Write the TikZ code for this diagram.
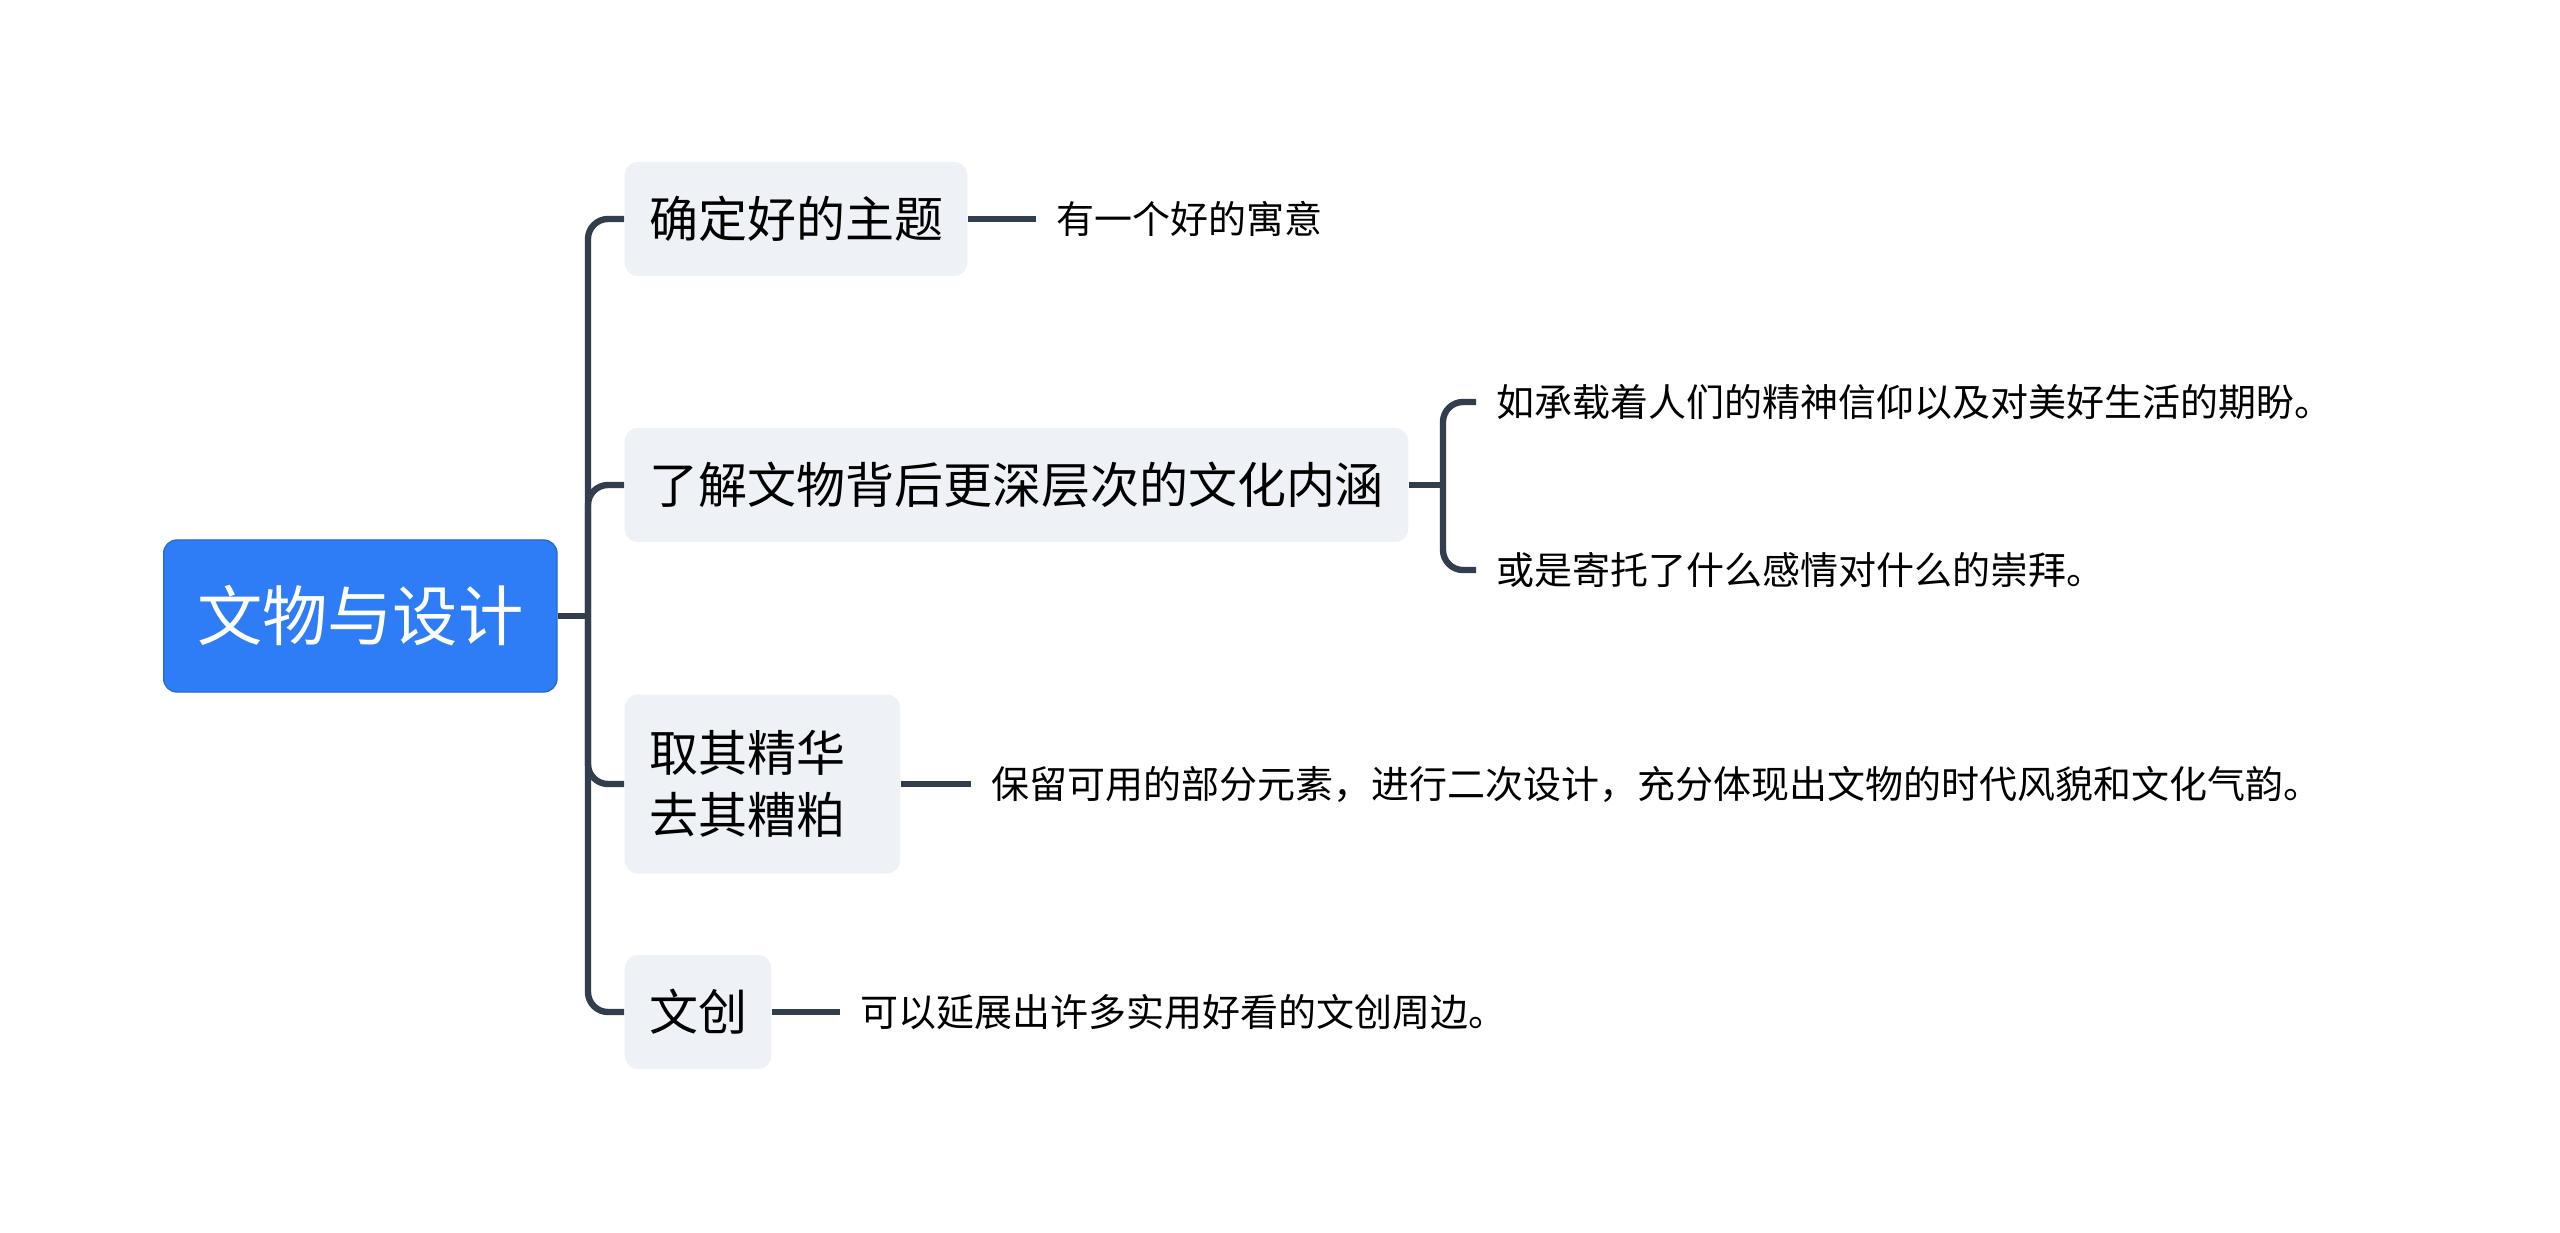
\documentclass[tikz,border=0pt]{standalone}
\usepackage{fontspec}
\newfontfamily\cjk{Noto Sans CJK SC}
\definecolor{rootblue}{HTML}{2E7CF6}
\definecolor{boxgray}{HTML}{EEF1F5}
\definecolor{linkslate}{HTML}{323D4E}
\tikzset{
  rootbox/.style={rectangle, rounded corners=4pt, fill=rootblue, draw=rootblue!85!black,
    line width=0.4pt, text=white, font=\cjk\fontsize{19.6pt}{24pt}\selectfont,
    minimum height=45.6pt, inner xsep=10pt, anchor=west},
  topicbox/.style={rectangle, rounded corners=4pt, fill=boxgray,
    font=\cjk\fontsize{14.7pt}{18.6pt}\selectfont, minimum height=34.2pt,
    inner xsep=7.3pt, anchor=west},
  notetext/.style={font=\cjk\fontsize{11.4pt}{14pt}\selectfont, inner xsep=6pt,
    inner ysep=0pt, anchor=west},
  link/.style={draw=linkslate, line width=1.9pt, rounded corners=6pt},
}

\begin{document}
\begin{tikzpicture}[x=0.3pt, y=-0.3pt]
  \fill[white] (0,0) rectangle (2560,1233);
  \useasboundingbox (0,0) rectangle (2560,1233);

  % root and topics
  \node[rootbox] at (163,616) (root) {文物与设计};
  \node[topicbox] at (624,219) (theme) {确定好的主题};
  \node[topicbox] at (624,485) (meaning) {了解文物背后更深层次的文化内涵};
  \node[topicbox, text width=68pt, align=left, minimum height=53.7pt] at (624,784) (essence) {取其精华\\去其糟粕};
  \node[topicbox] at (624,1012) (wenchuang) {文创};

  % notes
  \node[notetext] at (1036,219) (themeNote) {有一个好的寓意};
  \node[notetext] at (1476,402) (meaningA) {如承载着人们的精神信仰以及对美好生活的期盼。};
  \node[notetext] at (1476,570) (meaningB) {或是寄托了什么感情对什么的崇拜。};
  \node[notetext] at (971,784) (essenceNote) {保留可用的部分元素，进行二次设计，充分体现出文物的时代风貌和文化气韵。};
  \node[notetext] at (840,1012) (wcNote) {可以延展出许多实用好看的文创周边。};

  \coordinate (trunk) at (588,616);
  \coordinate (fork) at (1443,485);

  % connectors
  \draw[link] (root.east) -- (trunk);
  \draw[link] (trunk) |- (theme.west);
  \draw[link] (trunk) |- (meaning.west);
  \draw[link] (trunk) |- (essence.west);
  \draw[link] (trunk) |- (wenchuang.west);
  \draw[link] (theme.east) -- (themeNote.west);
  \draw[link] (meaning.east) -- (fork);
  \draw[link] (fork) |- (meaningA.west);
  \draw[link] (fork) |- (meaningB.west);
  \draw[link] (essence.east) -- (essenceNote.west);
  \draw[link] (wenchuang.east) -- (wcNote.west);
\end{tikzpicture}
\end{document}
